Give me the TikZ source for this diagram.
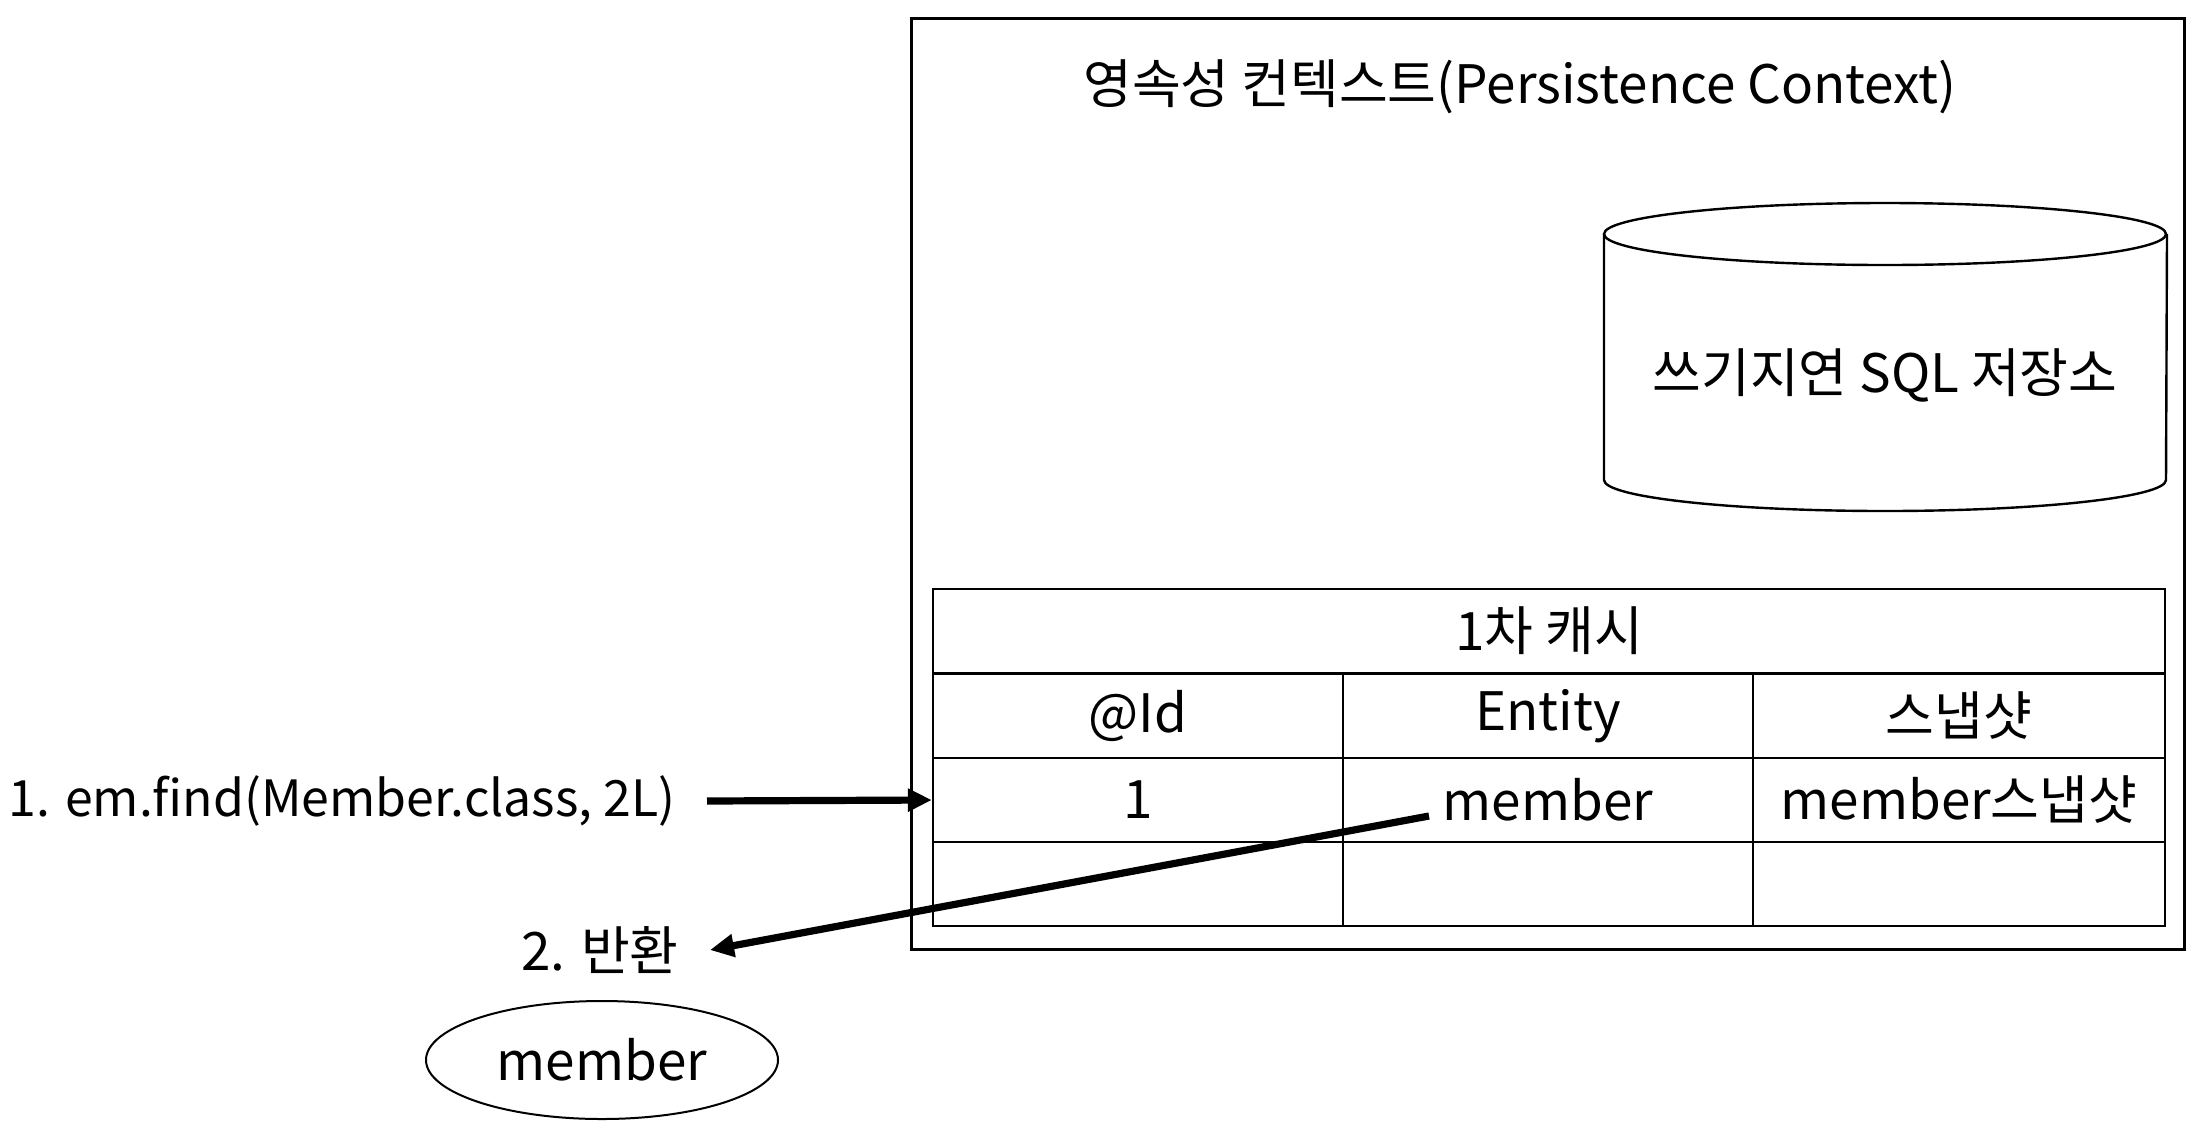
\documentclass[tikz,border=0pt]{standalone}
\usepackage{fontspec}
\setmainfont{Noto Sans CJK KR}
\usetikzlibrary{shapes.geometric,arrows.meta}
\begin{document}
\begin{tikzpicture}[x=0.5pt,y=-0.5pt,
  txt/.style={font=\fontsize{26.5}{32}\selectfont, inner sep=0pt},
  cell/.style={draw, line width=1.2pt, inner sep=0pt, minimum width=205pt, minimum height=42pt, font=\fontsize{26.5}{32}\selectfont},
  arr/.style={line width=3.6pt, -{Triangle[length=12pt,width=11pt]}},
  thinline/.style={line width=1.2pt}]
\useasboundingbox (0,0) rectangle (2196,1142);
% outer persistence context box
\node (ctx) [draw, line width=1.5pt, minimum width=636.5pt, minimum height=465.5pt, anchor=north west, inner sep=0pt] at (910,17) {};
\node (title) [txt] at (1520,87) {영속성 컨텍스트(Persistence Context)};
% cylinder
\draw[thinline] (1885,234) ellipse [x radius=140.5pt, y radius=15.5pt];
\draw[thinline] (1604,234) -- (1604,480) arc[start angle=180, end angle=360, x radius=140.5pt, y radius=15.5pt] -- (2167,234);
\node (sql) [txt] at (1885,375) {쓰기지연 SQL 저장소};
% table
\node (head) [cell, minimum width=616pt] at (1549,631) {1차 캐시};
\node (h1) [cell] at (1138,716) {@Id};
\node (h2) [cell] at (1548,716) {Entity};
\node (h3) [cell, minimum width=206pt] at (1959,716) {스냅샷};
\node (c11) [cell] at (1138,800) {1};
\node (c12) [cell] at (1548,800) {member};
\node (c13) [cell, minimum width=206pt] at (1959,800) {member스냅샷};
\node (c21) [cell] at (1138,884) {};
\node (c22) [cell] at (1548,884) {};
\node (c23) [cell, minimum width=206pt] at (1959,884) {};
% left side
\node (find) [txt, font=\fontsize{25}{30}\selectfont, anchor=east] at (676,801) {1. em.find(Member.class, 2L)};
\node (ret) [txt, anchor=east] at (679,950) {2. 반환};
\node (obj) [draw, ellipse, line width=1pt, minimum width=176pt, minimum height=59pt, inner sep=0pt, font=\fontsize{26.5}{32}\selectfont] at (602,1060) {member};
\coordinate (mstart) at (1429,816);
\draw[arr] ([xshift=15.5pt]find.east) -- (c11.west);
\draw[arr] (mstart) -- ([xshift=15.5pt]ret.east);
\end{tikzpicture}
\end{document}
